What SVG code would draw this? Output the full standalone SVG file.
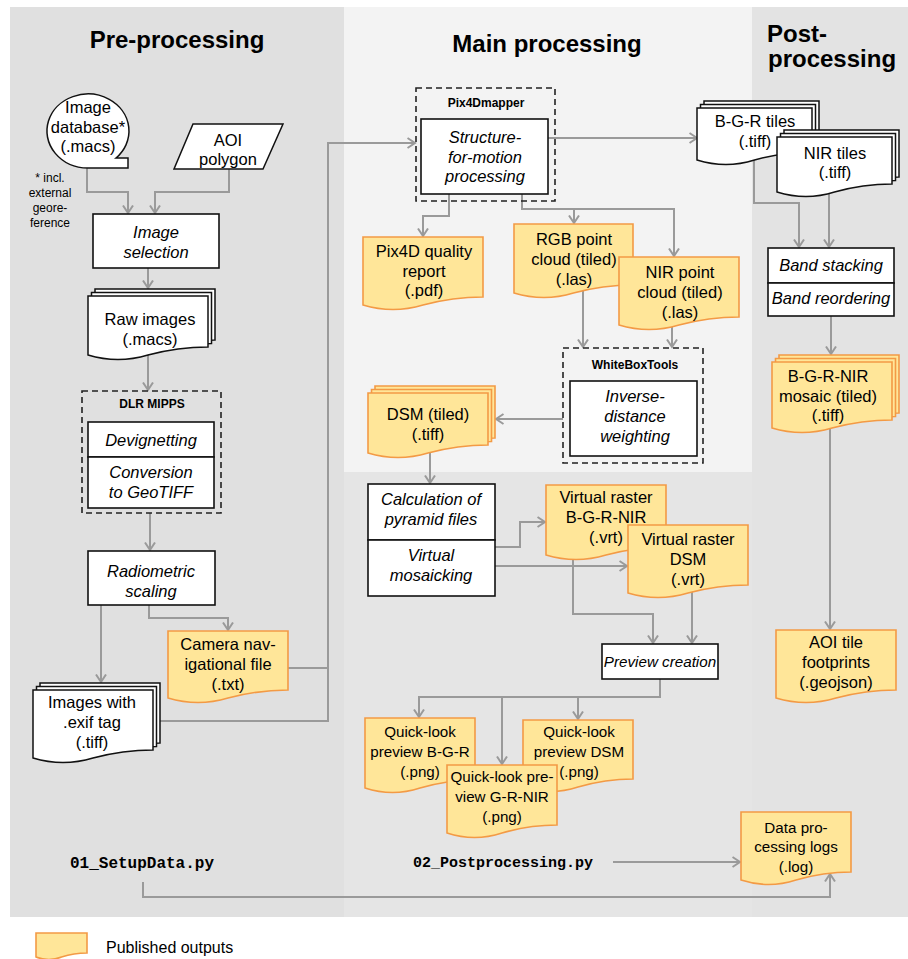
<svg xmlns="http://www.w3.org/2000/svg" width="908" height="959" viewBox="0 0 908 959">
<defs>
<marker id="ah" viewBox="0 0 10 12" refX="8.5" refY="6" markerWidth="10" markerHeight="12" orient="auto" markerUnits="userSpaceOnUse">
<path d="M1,1 L8.5,6 L1,11" fill="none" stroke="#9a9a9a" stroke-width="2"/>
</marker>
</defs>
<style>
.conn{fill:none;stroke:#9a9a9a;stroke-width:2;marker-end:url(#ah)}
.plain{fill:none;stroke:#9a9a9a;stroke-width:2}
.box{fill:#fff;stroke:#111;stroke-width:1.6}
.dash{fill:none;stroke:#222;stroke-width:1.6;stroke-dasharray:6 4}
.doc{fill:#fff;stroke:#111;stroke-width:1.5}
.pub{fill:#ffe699;stroke:#f39a45;stroke-width:1.6}
text{font-family:"Liberation Sans",Arial,sans-serif;font-size:16.5px;text-anchor:middle;fill:#000}
.i{font-style:italic}
.s{font-size:15.2px}
.lb{font-weight:bold;font-size:12px}
.fn{font-size:12px}
.h{font-weight:bold;font-size:24px}
.mono{font-family:"Liberation Mono","Courier New",monospace;font-weight:bold;font-size:16px;text-anchor:start}
</style>
<rect x="0" y="0" width="908" height="959" fill="#fff"/>
<g id="panels">
<rect x="10" y="7" width="334" height="910" fill="#e0e0e0"/>
<rect x="344" y="7" width="408" height="465" fill="#f3f3f3"/>
<rect x="344" y="472" width="408" height="445" fill="#e5e5e5"/>
<rect x="752" y="7" width="156" height="910" fill="#e3e3e3"/>
</g>
<g id="titles">
<text class="h" x="177" y="48">Pre-processing</text>
<text class="h" x="547" y="52">Main processing</text>
<text class="h" x="767" y="42" style="text-anchor:start">Post-</text>
<text class="h" x="768" y="67" style="text-anchor:start">processing</text>
</g>
<g id="connectors">
<polyline class="conn" points="87,168 87,192 128,192 128,213"/>
<polyline class="conn" points="229,169 229,192 155,192 155,213"/>
<polyline class="conn" points="148,268 148,288"/>
<polyline class="conn" points="148,352 148,390"/>
<polyline class="conn" points="150,513 150,550"/>
<polyline class="conn" points="101,605 101,682"/>
<polyline class="conn" points="149,605 149,618 228,618 228,630"/>
<polyline class="plain" points="288,668 328,668"/>
<polyline class="conn" points="160,721 328,721 328,143 415,143"/>
<polyline class="conn" points="548,138 697,138"/>
<polyline class="conn" points="449,194 449,216 423,216 423,236"/>
<polyline class="conn" points="522,194 522,209 674,209 674,256"/>
<polyline class="conn" points="574,209 574,223"/>
<polyline class="conn" points="583,290 583,347"/>
<polyline class="conn" points="672,322 672,347"/>
<polyline class="conn" points="563,419 496,419"/>
<polyline class="conn" points="430,452 430,483"/>
<polyline class="conn" points="495,547 520,547 520,522 545,522"/>
<polyline class="conn" points="495,566 627,566"/>
<polyline class="conn" points="573,555 573,614 653,614 653,643"/>
<polyline class="conn" points="692,590 692,643"/>
<polyline class="conn" points="660,679 660,697 419,697 419,717"/>
<polyline class="conn" points="502,697 502,764"/>
<polyline class="conn" points="578,697 578,719"/>
<polyline class="conn" points="754,158 754,203 799,203 799,247"/>
<polyline class="conn" points="829,190 829,247"/>
<polyline class="conn" points="831,316 831,354"/>
<polyline class="conn" points="830,425 830,629"/>
<polyline class="conn" points="613,862 740,862"/>
<polyline class="conn" points="143,882 143,897 830,897 830,874"/>
</g>
<g id="image-database">
<path class="doc" d="M88,168 A41,37 0 1 1 116,158 H128 V168 Z"/>
<text x="88" y="113">Image</text>
<text x="88" y="133">database*</text>
<text x="88" y="152">(.macs)</text>
</g>
<g id="footnote">
<text class="fn" x="50" y="182">* incl.</text>
<text class="fn" x="50" y="197">external</text>
<text class="fn" x="50" y="212">geore-</text>
<text class="fn" x="50" y="227">ference</text>
</g>
<g id="aoi-polygon">
<polygon class="doc" points="193,124 283,124 263,169 174,169"/>
<text x="228" y="146">AOI</text>
<text x="228" y="165">polygon</text>
</g>
<g id="image-selection">
<rect class="box" x="93" y="214" width="126" height="54"/>
<text class="i" x="156" y="238">Image</text>
<text class="i" x="156" y="258">selection</text>
</g>
<g id="raw-images">
<path class="doc" d="M95,289 H215 V340 Q185,340 155,348 Q125,357 95,348 Z"/>
<path class="doc" d="M91.5,292.5 H211.5 V343.5 Q181.5,343.5 151.5,351.5 Q121.5,360.5 91.5,351.5 Z"/>
<path class="doc" d="M88,296 H208 V347 Q178,347 148,355 Q118,364 88,355 Z"/>
<text x="150" y="325">Raw images</text>
<text x="150" y="345">(.macs)</text>
</g>
<g id="dlr-mipps">
<rect class="dash" x="82" y="391" width="139" height="122"/>
<text class="lb" x="152" y="408">DLR MIPPS</text>
<rect class="box" x="88" y="422" width="126" height="35"/>
<rect class="box" x="88" y="457" width="126" height="51"/>
<text class="i" x="151" y="446">Devignetting</text>
<text class="i" x="151" y="478">Conversion</text>
<text class="i" x="151" y="498">to GeoTIFF</text>
</g>
<g id="radiometric-scaling">
<rect class="box" x="88" y="551" width="127" height="54"/>
<text class="i" x="151" y="577">Radiometric</text>
<text class="i" x="151" y="597">scaling</text>
</g>
<g id="camera-nav-file">
<path class="pub" d="M168,631 H288 V690 Q258,690 228,698 Q198,707 168,698 Z"/>
<text x="228" y="650">Camera nav-</text>
<text x="228" y="670">igational file</text>
<text x="228" y="690">(.txt)</text>
</g>
<g id="images-exif">
<path class="doc" d="M40,683 H160 V743 Q130,743 100,751 Q70,760 40,751 Z"/>
<path class="doc" d="M36.5,686.5 H156.5 V746.5 Q126.5,746.5 96.5,754.5 Q66.5,763.5 36.5,754.5 Z"/>
<path class="doc" d="M33,690 H153 V750 Q123,750 93,758 Q63,767 33,758 Z"/>
<text x="92" y="708">Images with</text>
<text x="92" y="728">.exif tag</text>
<text x="92" y="748">(.tiff)</text>
</g>
<g id="script-01">
<text class="mono" x="70" y="868">01_SetupData.py</text>
</g>
<g id="pix4dmapper">
<rect class="dash" x="416" y="88" width="139" height="113"/>
<text class="lb" x="486" y="107">Pix4Dmapper</text>
<rect class="box" x="421" y="119" width="127" height="75"/>
<text class="i" x="485" y="143">Structure-</text>
<text class="i" x="485" y="163">for-motion</text>
<text class="i" x="485" y="182">processing</text>
</g>
<g id="pix4d-quality-report">
<path class="pub" d="M363,237 H483 V297 Q453,297 423,305 Q393,314 363,305 Z"/>
<text x="424" y="257">Pix4D quality</text>
<text x="424" y="277">report</text>
<text x="424" y="296">(.pdf)</text>
</g>
<g id="rgb-point-cloud">
<path class="pub" d="M514,224 H633 V285 Q603,285 573.5,293 Q544,302 514,293 Z"/>
<text x="574" y="245">RGB point</text>
<text x="574" y="265">cloud (tiled)</text>
<text x="574" y="285">(.las)</text>
</g>
<g id="nir-point-cloud">
<path class="pub" d="M619,257 H739 V317 Q709,317 679,325 Q649,334 619,325 Z"/>
<text x="680" y="278">NIR point</text>
<text x="680" y="298">cloud (tiled)</text>
<text x="680" y="318">(.las)</text>
</g>
<g id="whiteboxtools">
<rect class="dash" x="563" y="348" width="140" height="115"/>
<text class="lb" x="635" y="369">WhiteBoxTools</text>
<rect class="box" x="570" y="381" width="127" height="75"/>
<text class="i" x="635" y="402">Inverse-</text>
<text class="i" x="635" y="422">distance</text>
<text class="i" x="635" y="442">weighting</text>
</g>
<g id="dsm-tiled">
<path class="pub" d="M375,386 H495 V438 Q465,438 435,446 Q405,455 375,446 Z"/>
<path class="pub" d="M371.5,389.5 H491.5 V441.5 Q461.5,441.5 431.5,449.5 Q401.5,458.5 371.5,449.5 Z"/>
<path class="pub" d="M368,393 H488 V445 Q458,445 428,453 Q398,462 368,453 Z"/>
<text x="428" y="420">DSM (tiled)</text>
<text x="428" y="440">(.tiff)</text>
</g>
<g id="pyramid-mosaicking">
<rect class="box" x="368" y="484" width="127" height="56"/>
<rect class="box" x="368" y="540" width="127" height="56"/>
<text class="i" x="431" y="505">Calculation of</text>
<text class="i" x="431" y="525">pyramid files</text>
<text class="i" x="431" y="561">Virtual</text>
<text class="i" x="431" y="581">mosaicking</text>
</g>
<g id="vrt-bgrnir">
<path class="pub" d="M546,485 H666 V547 Q636,547 606,555 Q576,564 546,555 Z"/>
<text x="606" y="503">Virtual raster</text>
<text x="606" y="523">B-G-R-NIR</text>
<text x="606" y="543">(.vrt)</text>
</g>
<g id="vrt-dsm">
<path class="pub" d="M628,525 H748 V585 Q718,585 688,593 Q658,602 628,593 Z"/>
<text x="688" y="545">Virtual raster</text>
<text x="688" y="565">DSM</text>
<text x="688" y="585">(.vrt)</text>
</g>
<g id="preview-creation">
<rect class="box" x="602" y="644" width="116" height="35"/>
<text class="i s" x="660" y="667">Preview creation</text>
</g>
<g id="ql-bgr">
<path class="pub" d="M365,718 H475 V780 Q447.5,780 420,788 Q392.5,797 365,788 Z"/>
<text class="s" x="420" y="737">Quick-look</text>
<text class="s" x="420" y="757">preview B-G-R</text>
<text class="s" x="420" y="777">(.png)</text>
</g>
<g id="ql-dsm">
<path class="pub" d="M523,720 H633 V779 Q605.5,779 578,787 Q550.5,796 523,787 Z"/>
<text class="s" x="579" y="737">Quick-look</text>
<text class="s" x="579" y="757">preview DSM</text>
<text class="s" x="579" y="777">(.png)</text>
</g>
<g id="ql-grnir">
<path class="pub" d="M447,765 H557 V825 Q529.5,825 502,833 Q474.5,842 447,833 Z"/>
<text class="s" x="502" y="782">Quick-look pre-</text>
<text class="s" x="502" y="802">view G-R-NIR</text>
<text class="s" x="502" y="822">(.png)</text>
</g>
<g id="script-02">
<text class="mono" x="413" y="867" style="font-size:15px">02_Postprocessing.py</text>
</g>
<g id="bgr-tiles">
<path class="doc" d="M704,101 H819 V145 Q790,145 761.5,153 Q733,162 704,153 Z"/>
<path class="doc" d="M700.5,104.5 H815.5 V148.5 Q786.5,148.5 758,156.5 Q729.5,165.5 700.5,156.5 Z"/>
<path class="doc" d="M697,108 H812 V152 Q783,152 754.5,160 Q726,169 697,160 Z"/>
<text x="755" y="127">B-G-R tiles</text>
<text x="755" y="147">(.tiff)</text>
</g>
<g id="nir-tiles">
<path class="doc" d="M784,130 H899 V177 Q870,177 841.5,185 Q813,194 784,185 Z"/>
<path class="doc" d="M780.5,133.5 H895.5 V180.5 Q866.5,180.5 838,188.5 Q809.5,197.5 780.5,188.5 Z"/>
<path class="doc" d="M777,137 H892 V184 Q863,184 834.5,192 Q806,201 777,192 Z"/>
<text x="835" y="159">NIR tiles</text>
<text x="835" y="178">(.tiff)</text>
</g>
<g id="band-stacking">
<rect class="box" x="768" y="248" width="126" height="35"/>
<rect class="box" x="768" y="283" width="126" height="33"/>
<text class="i" x="831" y="271">Band stacking</text>
<text class="i" x="831" y="304">Band reordering</text>
</g>
<g id="bgrnir-mosaic">
<path class="pub" d="M779,355 H899 V413 Q869,413 839,421 Q809,430 779,421 Z"/>
<path class="pub" d="M775.5,358.5 H895.5 V416.5 Q865.5,416.5 835.5,424.5 Q805.5,433.5 775.5,424.5 Z"/>
<path class="pub" d="M772,362 H892 V420 Q862,420 832,428 Q802,437 772,428 Z"/>
<text x="828" y="382">B-G-R-NIR</text>
<text x="828" y="402">mosaic (tiled)</text>
<text x="828" y="421">(.tiff)</text>
</g>
<g id="aoi-footprints">
<path class="pub" d="M776,630 H896 V690 Q866,690 836,698 Q806,707 776,698 Z"/>
<text x="836" y="648">AOI tile</text>
<text x="836" y="668">footprints</text>
<text x="836" y="688">(.geojson)</text>
</g>
<g id="processing-logs">
<path class="pub" d="M741,812 H851 V872 Q823.5,872 796,880 Q768.5,889 741,880 Z"/>
<text class="s" x="796" y="833">Data pro-</text>
<text class="s" x="796" y="852">cessing logs</text>
<text class="s" x="796" y="872">(.log)</text>
</g>
<g id="legend">
<path class="pub" d="M36,933 H87 V953 Q74,953 61.5,957 Q49,962 36,957 Z"/>
<text x="106" y="953" style="text-anchor:start;font-size:16px">Published outputs</text>
</g>
</svg>
